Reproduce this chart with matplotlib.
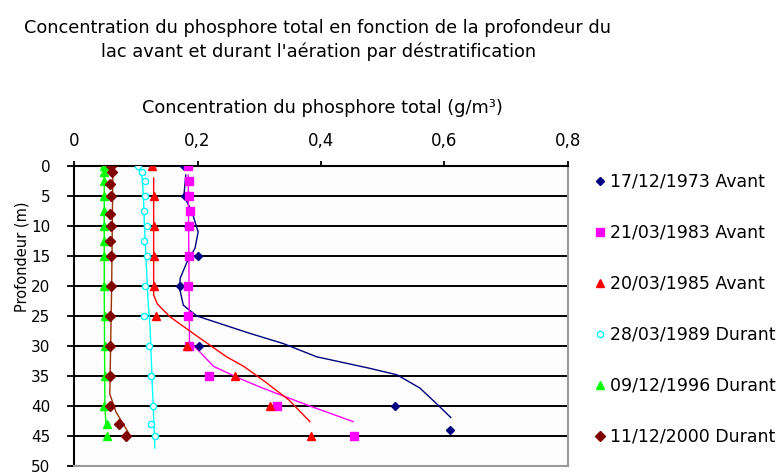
import matplotlib
matplotlib.use("Agg")
import matplotlib.pyplot as plt

plt.rcParams['font.family'] = ['DejaVu Sans']

# ---------------- data (markers) ----------------
d1973 = [0, 5, 10, 15, 20, 25, 30, 40, 44]
c1973 = [0.178, 0.179, 0.185, 0.200, 0.172, 0.185, 0.203, 0.520, 0.609]

d1983 = [0, 2.5, 5, 7.5, 10, 15, 20, 25, 30, 35, 40, 45]
c1983 = [0.185, 0.186, 0.187, 0.188, 0.187, 0.186, 0.185, 0.185, 0.186, 0.218, 0.328, 0.454]

d1985 = [0, 5, 10, 15, 20, 25, 30, 35, 40, 45]
c1985 = [0.127, 0.130, 0.129, 0.129, 0.130, 0.132, 0.183, 0.260, 0.318, 0.383]

d1989 = [0, 1, 2.5, 5, 7.5, 10, 12.5, 15, 20, 25, 30, 35, 40, 43, 45]
c1989 = [0.104, 0.110, 0.115, 0.115, 0.114, 0.118, 0.113, 0.118, 0.115, 0.113,
         0.121, 0.124, 0.128, 0.124, 0.131]

d1996 = [0, 1, 2.5, 5, 7.5, 10, 12.5, 15, 20, 25, 30, 35, 40, 43, 45]
c1996 = [0.049, 0.049, 0.048, 0.049, 0.048, 0.049, 0.048, 0.049, 0.049, 0.050,
         0.051, 0.050, 0.049, 0.053, 0.053]

d2000 = [0, 1, 3, 5, 8, 10, 12.5, 15, 20, 25, 30, 35, 40, 43, 45]
c2000 = [0.060, 0.061, 0.059, 0.060, 0.059, 0.060, 0.059, 0.060, 0.060, 0.058,
         0.058, 0.058, 0.058, 0.073, 0.085]

# ---------------- data (smoothed curves) ----------------
d1973_line = [1.5, 5, 7.6, 11, 13.7, 16, 18.7, 20.4, 23.2, 25, 27.9, 29.6, 31.8, 33.7, 34.8, 37, 39.6, 41.9]
c1973_line = [0.181, 0.178, 0.191, 0.201, 0.196, 0.183, 0.172, 0.171, 0.177, 0.199,
              0.285, 0.339, 0.393, 0.478, 0.523, 0.560, 0.587, 0.610]

d1983_line = [1.5, 29.3, 31, 33.4, 35.4, 37, 40, 42.6]
c1983_line = [0.185, 0.187, 0.204, 0.226, 0.268, 0.305, 0.382, 0.452]

d1985_line = [2, 21.5, 23, 25.1, 27.9, 31.8, 33.4, 36, 39, 42.6]
c1985_line = [0.129, 0.129, 0.135, 0.155, 0.193, 0.247, 0.275, 0.310, 0.348, 0.382]

d1989_line = [0, 1.5, 4.3, 12, 22.6, 26.5, 34.3, 47]
c1989_line = [0.102, 0.110, 0.112, 0.115, 0.120, 0.123, 0.126, 0.131]

d1996_line = [0, 20, 40, 43.5]
c1996_line = [0.049, 0.049, 0.050, 0.052]

d2000_line = [0, 20, 38, 41, 44.6]
c2000_line = [0.063, 0.061, 0.058, 0.068, 0.089]

labels = ["17/12/1973 Avant", "21/03/1983 Avant", "20/03/1985 Avant",
          "28/03/1989 Durant", "09/12/1996 Durant", "11/12/2000 Durant"]
x_ticks = [0, 0.2, 0.4, 0.6, 0.8]
x_tick_labels = ["0", "0,2", "0,4", "0,6", "0,8"]
y_ticks = [0, 5, 10, 15, 20, 25, 30, 35, 40, 45, 50]

# ---------------- figure ----------------
W, H = 778, 473
fig = plt.figure(figsize=(W / 100, H / 100), dpi=100)
fig.patch.set_facecolor('white')
x0, x1, y0, y1 = 74, 568, 166, 466
ax = fig.add_axes([x0 / W, 1 - y1 / H, (x1 - x0) / W, (y1 - y0) / H])

ax.set_xlim(0, 0.8)
ax.set_ylim(50, 0)

# curves
line_specs = [
    (c1973_line, d1973_line, '#000080'),
    (c1983_line, d1983_line, '#FF00FF'),
    (c1985_line, d1985_line, '#FF0000'),
    (c1989_line, d1989_line, '#00FFFF'),
    (c1996_line, d1996_line, '#00FF00'),
    (c2000_line, d2000_line, '#993300'),
]
for cx, dy, col in line_specs:
    ax.plot(cx, dy, color=col, lw=1.0, zorder=3)

# markers
mk = [
    (c1973, d1973, 'D', '#000080', '#000080', 4.2),
    (c1983, d1983, 's', '#FF00FF', '#FF00FF', 6.0),
    (c1985, d1985, '^', '#FF0000', '#FF0000', 6.0),
    (c1989, d1989, 'o', 'white', '#00FFFF', 4.5),
    (c1996, d1996, '^', '#00FF00', '#00FF00', 5.5),
    (c2000, d2000, 'D', '#800000', '#800000', 4.8),
]
handles = []
for (cx, dy, m, fc, ec, ms), lab in zip(mk, labels):
    h, = ax.plot(cx, dy, linestyle='none', marker=m, markerfacecolor=fc,
                 markeredgecolor=ec, markersize=ms, markeredgewidth=1.0,
                 label=lab, zorder=4)
    handles.append(h)

# axes styling
ax.xaxis.tick_top()
ax.set_xticks(x_ticks)
ax.set_xticklabels(x_tick_labels)
ax.set_yticks(y_ticks)
ax.set_yticklabels([str(v) for v in y_ticks])
ax.tick_params(axis='x', direction='out', length=3.5, width=1.3, pad=8,
               labelsize=12, colors='black')
ax.tick_params(axis='y', direction='out', length=5, width=1.3, pad=12,
               labelsize=11, colors='black')
ax.yaxis.grid(True, color='black', lw=1.4, zorder=1)
ax.xaxis.grid(False)
ax.set_axisbelow(True)
for s in ['top', 'left']:
    ax.spines[s].set_color('black')
    ax.spines[s].set_linewidth(1.5)
for s in ['right', 'bottom']:
    ax.spines[s].set_color('#9a9a9a')
    ax.spines[s].set_linewidth(1.5)
ax.set_facecolor('#fdfdfd')

# texts
def ftext(px, py, s, **kw):
    fig.text(px / W, 1 - py / H, s, **kw)

ftext(317, 28, "Concentration du phosphore total en fonction de la profondeur du",
      ha='center', va='center', fontsize=12.8)
ftext(319, 52, "lac avant et durant l'aération par déstratification",
      ha='center', va='center', fontsize=12.8)
ftext(322, 108, "Concentration du phosphore total (g/m³)",
      ha='center', va='center', fontsize=12.8)
ftext(22, 257, "Profondeur (m)", ha='center', va='center', rotation=90, fontsize=10.5)

leg = fig.legend(handles=handles, loc='upper left',
                 bbox_to_anchor=(596 / W, 1 - 173 / H),
                 frameon=False, fontsize=12.5, handlelength=0.5,
                 handletextpad=0.3, labelspacing=1.9, borderaxespad=0,
                 borderpad=0)

fig.savefig("out.png", dpi=100, facecolor='white')
